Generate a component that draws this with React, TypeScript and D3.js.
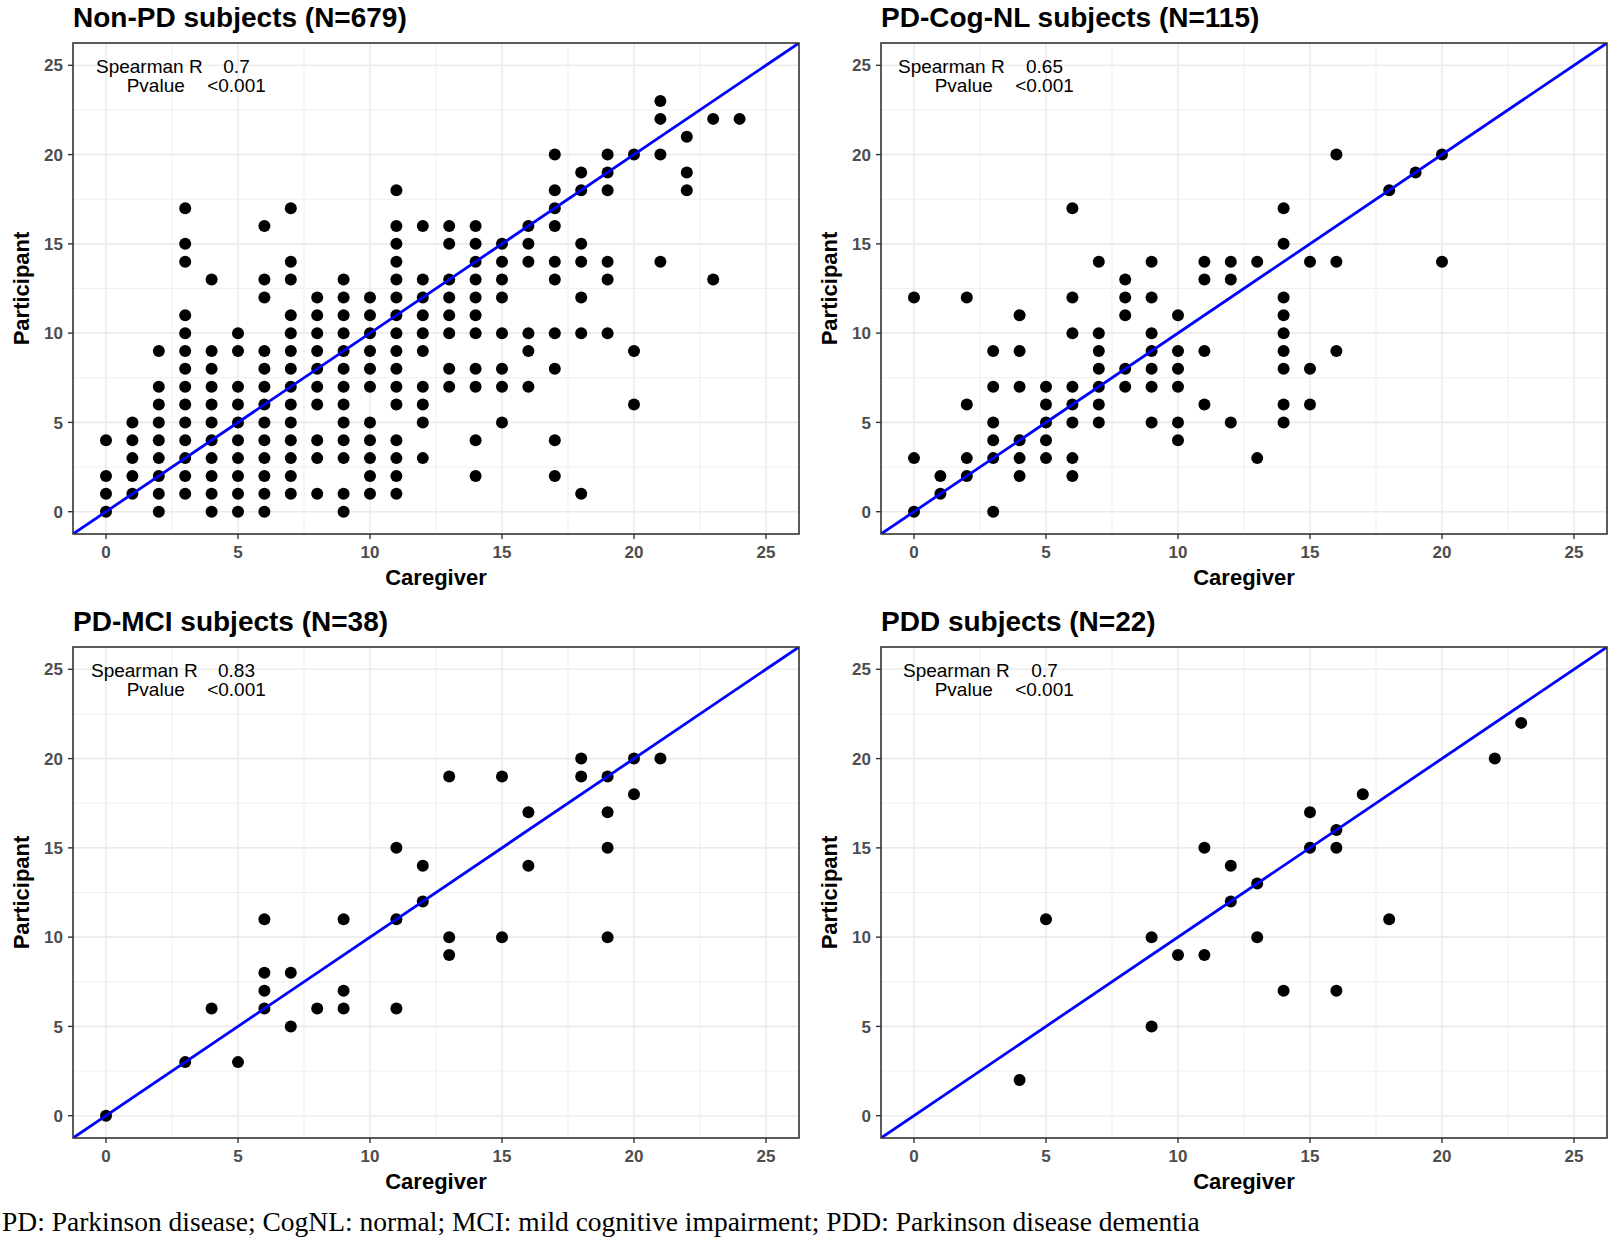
import React from "react";
import * as d3 from "d3";

// ---------- DATA ----------
const panelTitles = [
  "Non-PD subjects (N=679)",
  "PD-Cog-NL subjects (N=115)",
  "PD-MCI subjects (N=38)",
  "PDD subjects (N=22)",
];
const spearmanR = ["0.7", "0.65", "0.83", "0.7"];
const pValues = ["<0.001", "<0.001", "<0.001", "<0.001"];
const axisTicks = [0, 5, 10, 15, 20, 25];
const minorTicks = [2.5, 7.5, 12.5, 17.5, 22.5];
const xTitle = "Caregiver";
const yTitle = "Participant";
const caption =
  "PD: Parkinson disease; CogNL: normal; MCI: mild cognitive impairment; PDD: Parkinson disease dementia";

// Non-PD: caregiver score -> participant scores observed
const nonPdByCaregiver: [number, number[]][] = [
  [0, [0, 1, 2, 4]],
  [1, [1, 2, 3, 4, 5]],
  [2, [0, 1, 2, 3, 4, 5, 6, 7, 9]],
  [3, [1, 2, 3, 4, 5, 6, 7, 8, 9, 10, 11, 14, 15, 17]],
  [4, [0, 1, 2, 3, 4, 5, 6, 7, 8, 9, 13]],
  [5, [0, 1, 2, 3, 4, 5, 6, 7, 9, 10]],
  [6, [0, 1, 2, 3, 4, 5, 6, 7, 8, 9, 12, 13, 16]],
  [7, [1, 2, 3, 4, 5, 6, 7, 8, 9, 10, 11, 13, 14, 17]],
  [8, [1, 3, 4, 6, 7, 8, 9, 10, 11, 12]],
  [9, [0, 1, 3, 4, 5, 6, 7, 8, 9, 10, 11, 12, 13]],
  [10, [1, 2, 3, 4, 5, 7, 8, 9, 10, 11, 12]],
  [11, [1, 2, 3, 4, 6, 7, 8, 9, 10, 11, 12, 13, 14, 15, 16, 18]],
  [12, [3, 5, 6, 7, 9, 10, 11, 12, 13, 16]],
  [13, [7, 8, 10, 11, 12, 13, 15, 16]],
  [14, [2, 4, 7, 8, 10, 11, 12, 13, 14, 15, 16]],
  [15, [5, 7, 8, 10, 12, 13, 14, 15]],
  [16, [7, 9, 10, 14, 15, 16]],
  [17, [2, 4, 8, 10, 13, 14, 16, 17, 18, 20]],
  [18, [1, 10, 12, 14, 15, 18, 19]],
  [19, [10, 13, 14, 18, 19, 20]],
  [20, [6, 9, 20]],
  [21, [14, 20, 22, 23]],
  [22, [18, 19, 21]],
  [23, [13, 22]],
  [24, [22]],
];

const cogNlPoints: [number, number][] = [
  [16, 20], [20, 20], [19, 19], [18, 18], [6, 17], [14, 17], [14, 15],
  [7, 14], [9, 14], [11, 14], [12, 14], [13, 14], [15, 14], [16, 14], [20, 14],
  [8, 13], [11, 13], [12, 13],
  [0, 12], [2, 12], [6, 12], [8, 12], [9, 12], [14, 12],
  [4, 11], [8, 11], [10, 11], [14, 11],
  [6, 10], [7, 10], [9, 10], [14, 10],
  [3, 9], [4, 9], [7, 9], [9, 9], [10, 9], [11, 9], [14, 9], [16, 9],
  [7, 8], [8, 8], [9, 8], [10, 8], [14, 8], [15, 8],
  [3, 7], [4, 7], [5, 7], [6, 7], [7, 7], [8, 7], [9, 7], [10, 7],
  [2, 6], [5, 6], [6, 6], [7, 6], [11, 6], [14, 6], [15, 6],
  [3, 5], [5, 5], [6, 5], [7, 5], [9, 5], [10, 5], [12, 5], [14, 5],
  [3, 4], [4, 4], [5, 4], [10, 4],
  [0, 3], [2, 3], [3, 3], [4, 3], [5, 3], [6, 3], [13, 3],
  [1, 2], [2, 2], [4, 2], [6, 2],
  [1, 1], [0, 0], [3, 0],
];

const mciPoints: [number, number][] = [
  [18, 20], [20, 20], [21, 20],
  [13, 19], [15, 19], [18, 19], [19, 19],
  [20, 18], [16, 17], [19, 17],
  [11, 15], [19, 15], [12, 14], [16, 14], [12, 12],
  [6, 11], [9, 11], [11, 11],
  [13, 10], [15, 10], [19, 10], [13, 9],
  [6, 8], [7, 8], [6, 7], [9, 7],
  [4, 6], [6, 6], [8, 6], [9, 6], [11, 6],
  [7, 5], [3, 3], [5, 3], [0, 0],
];

const pddPoints: [number, number][] = [
  [23, 22], [22, 20], [17, 18], [15, 17], [16, 16],
  [11, 15], [15, 15], [16, 15], [12, 14], [13, 13], [12, 12],
  [5, 11], [18, 11], [9, 10], [13, 10], [10, 9], [11, 9],
  [14, 7], [16, 7], [9, 5], [4, 2],
];

const nonPdPoints: [number, number][] = nonPdByCaregiver.flatMap(([x, ys]) =>
  ys.map((y) => [x, y] as [number, number])
);
const panelPoints = [nonPdPoints, cogNlPoints, mciPoints, pddPoints];

// ---------- LAYOUT ----------
const W = 1610;
const H = 1239;
const plotW = 726;
const plotH = 491;
const panelOrigins = [
  [73, 43],
  [881, 43],
  [73, 647],
  [881, 647],
];
const spearmanLabelShift = [23, 17, 18, 22];
const SANS = "'Liberation Sans', Arial, Helvetica, sans-serif";
const SERIF = "'Liberation Serif', 'Times New Roman', serif";
const domain: [number, number] = [-1.25, 26.25];

function Panel({ idx }: { idx: number }) {
  const [ox, oy] = panelOrigins[idx];
  const x = d3.scaleLinear().domain(domain).range([0, plotW]);
  const y = d3.scaleLinear().domain(domain).range([plotH, 0]);
  const pts = panelPoints[idx];
  const clipId = `clip-${idx}`;
  const tickFont = { fontFamily: SANS, fontWeight: 700, fontSize: 17, fill: "#4D4D4D" };
  return (
    <g transform={`translate(${ox},${oy})`}>
      <defs>
        <clipPath id={clipId}>
          <rect x={0} y={0} width={plotW} height={plotH} />
        </clipPath>
      </defs>
      <rect x={0} y={0} width={plotW} height={plotH} fill="#FFFFFF" />
      {minorTicks.map((t) => (
        <g key={`m${t}`}>
          <line x1={x(t)} x2={x(t)} y1={0} y2={plotH} stroke="#EFEFEF" strokeWidth={1} />
          <line x1={0} x2={plotW} y1={y(t)} y2={y(t)} stroke="#EFEFEF" strokeWidth={1} />
        </g>
      ))}
      {axisTicks.map((t) => (
        <g key={`g${t}`}>
          <line x1={x(t)} x2={x(t)} y1={0} y2={plotH} stroke="#EBEBEB" strokeWidth={1.6} />
          <line x1={0} x2={plotW} y1={y(t)} y2={y(t)} stroke="#EBEBEB" strokeWidth={1.6} />
        </g>
      ))}
      <g clipPath={`url(#${clipId})`}>
        {pts.map(([px, py], i) => (
          <circle key={i} cx={x(px)} cy={y(py)} r={6} fill="#000000" />
        ))}
        <line
          x1={x(domain[0])}
          y1={y(domain[0])}
          x2={x(domain[1])}
          y2={y(domain[1])}
          stroke="#0000FF"
          strokeWidth={2.8}
        />
      </g>
      <rect x={0} y={0} width={plotW} height={plotH} fill="none" stroke="#333333" strokeWidth={1.6} />
      {/* ticks */}
      {axisTicks.map((t) => (
        <g key={`t${t}`}>
          <line x1={-5} x2={0} y1={y(t)} y2={y(t)} stroke="#333333" strokeWidth={1.4} />
          <text x={-10} y={y(t)} dy="0.36em" textAnchor="end" {...tickFont}>
            {t}
          </text>
          <line x1={x(t)} x2={x(t)} y1={plotH} y2={plotH + 5} stroke="#333333" strokeWidth={1.4} />
          <text x={x(t)} y={plotH + 24} textAnchor="middle" {...tickFont}>
            {t}
          </text>
        </g>
      ))}
      {/* annotation */}
      <g fontFamily={SANS} fontSize={19} fill="#000000">
        <text x={spearmanLabelShift[idx]} y={30}>Spearman R</text>
        <text x={163.5} y={30} textAnchor="middle">{spearmanR[idx]}</text>
        <text x={53.7} y={49}>Pvalue</text>
        <text x={163.5} y={49} textAnchor="middle">{pValues[idx]}</text>
      </g>
      {/* titles */}
      <text x={0} y={-16} fontFamily={SANS} fontWeight={700} fontSize={28} fill="#000000">
        {panelTitles[idx]}
      </text>
      <text
        x={plotW / 2}
        y={plotH + 51}
        textAnchor="middle"
        fontFamily={SANS}
        fontWeight={700}
        fontSize={22}
        fill="#000000"
      >
        {xTitle}
      </text>
      <text
        transform={`translate(${-44},${plotH / 2}) rotate(-90)`}
        textAnchor="middle"
        fontFamily={SANS}
        fontWeight={700}
        fontSize={22}
        fill="#000000"
      >
        {yTitle}
      </text>
    </g>
  );
}

export default function App() {
  return (
    <svg
      width={W}
      height={H}
      viewBox={`0 0 ${W} ${H}`}
      style={{ position: "absolute", left: 0, top: 0, background: "#FFFFFF" }}
    >
      <rect x={0} y={0} width={W} height={H} fill="#FFFFFF" />
      {panelTitles.map((_, i) => (
        <Panel key={i} idx={i} />
      ))}
      <text x={2} y={1231} fontFamily={SERIF} fontSize={27.5} fill="#000000">
        {caption}
      </text>
    </svg>
  );
}
